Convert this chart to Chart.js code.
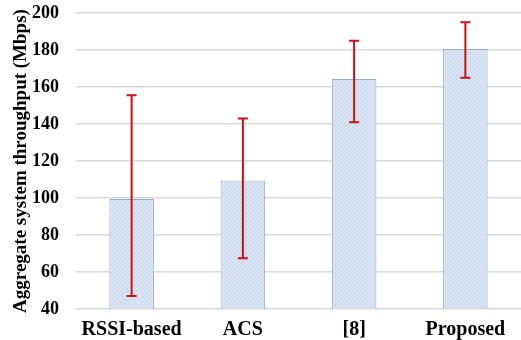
<!DOCTYPE html>
<html>
<head>
<meta charset="utf-8">
<script src="https://cdn.jsdelivr.net/npm/chart.js@4"></script>
<style>
  html, body { margin: 0; padding: 0; background: #fff; }
  #wrap { width: 521px; height: 340px; }
</style>
</head>
<body>
<div id="wrap"><canvas id="grafico"></canvas></div>
<script>
const categories = ['RSSI-based', 'ACS', '[8]', 'Proposed'];
const throughput = [99.5, 109.5, 164.3, 180.5];
const errHigh = [155.5, 143, 185, 195];
const errLow = [47, 67.5, 141, 165];
const yTicks = [40, 60, 80, 100, 120, 140, 160, 180, 200];

// hatched light-blue fill like the original
function hatch() {
    const c = document.createElement('canvas');
    c.width = 4; c.height = 4;
    const g = c.getContext('2d');
    g.fillStyle = '#dae5f4';
    g.fillRect(0, 0, 4, 4);
    g.strokeStyle = '#c3d3ea';
    g.lineWidth = 1;
    g.beginPath();
    g.moveTo(0, 4); g.lineTo(4, 0);
    g.stroke();
    return g.createPattern(c, 'repeat');
}

const errorBars = {
    id: 'errorBars',
    afterDatasetsDraw(chart) {
        const ctx = chart.ctx;
        const y = chart.scales.y;
        const meta = chart.getDatasetMeta(0);
        ctx.save();
        ctx.strokeStyle = '#cc1010';
        ctx.lineWidth = 2;
        meta.data.forEach(function (bar, i) {
            const top = y.getPixelForValue(errHigh[i]);
            const bot = y.getPixelForValue(errLow[i]);
            ctx.beginPath();
            ctx.moveTo(bar.x, top); ctx.lineTo(bar.x, bot);
            ctx.moveTo(bar.x - 5, top); ctx.lineTo(bar.x + 5, top);
            ctx.moveTo(bar.x - 5, bot); ctx.lineTo(bar.x + 5, bot);
            ctx.stroke();
        });
        ctx.restore();
    }
};

document.addEventListener("DOMContentLoaded", function () {
    const ctx = document.getElementById('grafico').getContext('2d');

    new Chart(ctx, {
        type: 'bar',
        data: {
            labels: categories,
            datasets: [{
                data: throughput,
                backgroundColor: hatch(),
                borderColor: '#97abc8',
                borderWidth: 1,
                categoryPercentage: 1,
                barPercentage: 0.4
            }]
        },
        options: {
            responsive: true,
            maintainAspectRatio: false,
            animation: false,
            layout: { padding: { top: 13, right: -4, left: 10, bottom: 0 } },
            plugins: {
                legend: { display: false },
                tooltip: { enabled: false }
            },
            scales: {
                x: {
                    grid: { display: false },
                    border: { display: false },
                    afterFit: function (s) { s.height = 31; },
                    ticks: {
                        color: '#000',
                        padding: 1,
                        font: { family: 'Liberation Serif', size: 20, weight: 'bold' }
                    }
                },
                y: {
                    min: 40,
                    max: 200,
                    afterBuildTicks: function (axis) {
                        axis.ticks = yTicks.map(function (v) { return { value: v }; });
                    },
                    afterFit: function (s) {
                        s.width = 66;
                        s.paddingTop = 0;
                        s.paddingBottom = 0;
                    },
                    grid: { color: '#d9d9d9', lineWidth: 1.5, drawTicks: false },
                    border: { display: false },
                    ticks: {
                        color: '#000',
                        padding: 17,
                        font: { family: 'Liberation Serif', size: 18, weight: 'bold' }
                    },
                    title: {
                        display: true,
                        text: 'Aggregate system throughput (Mbps)',
                        color: '#000',
                        padding: { top: 0, bottom: 2 },
                        font: { family: 'Liberation Serif', size: 19, weight: 'bold' }
                    }
                }
            }
        },
        plugins: [errorBars]
    });
});
</script>
</body>
</html>
